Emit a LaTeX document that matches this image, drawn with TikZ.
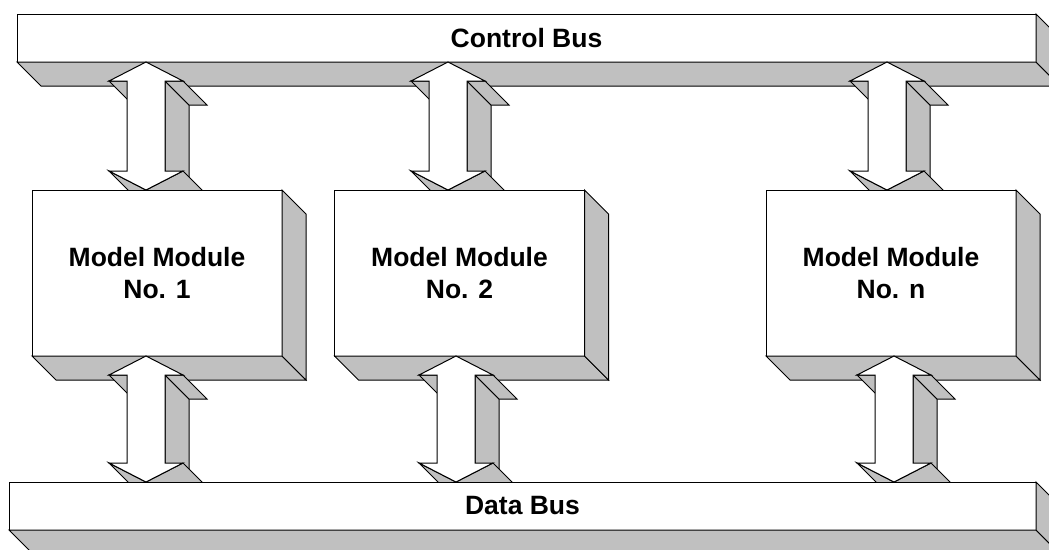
\documentclass[tikz,border=0pt]{standalone}
\usepackage{fontspec}
\setmainfont{Liberation Sans}
\usetikzlibrary{calc}
\definecolor{shadegray}{HTML}{C0C0C0}

\tikzset{
  face/.style={fill=shadegray,draw=black,line width=1pt},
  front/.style={fill=white,draw=black,line width=1pt},
  bus/.style={front,minimum width=1019pt,minimum height=48pt,inner sep=0pt,outer sep=0pt,
    font=\fontsize{26.5}{32}\selectfont\bfseries},
  module/.style={front,minimum width=250pt,minimum height=166pt,inner sep=0pt,outer sep=0pt,
    align=center,font=\fontsize{26.5}{32}\selectfont\bfseries}
}

% side faces of a box node
\newcommand{\boxshade}[1]{%
  \draw[face] (#1.south west) -- (#1.south east) -- ++(24,-24) -- ($(#1.south west)+(24,-24)$) -- cycle;
  \draw[face] (#1.north east) -- ++(24,-24) -- ($(#1.south east)+(24,-24)$) -- (#1.south east) -- cycle;
}

% double block arrow at x between two nodes
\newcommand{\busarrow}[3]{%
  \coordinate (at) at (#1,0 |- #2.south);
  \coordinate (ab) at (#1,0 |- #3.north);
  \draw[face] ($(at)+(19,-19)$) -- ($(ab)+(19,19)$) -- ($(ab)+(43,-5)$) -- ($(at)+(43,-43)$) -- cycle;
  \draw[face] ($(at)+(19,-19)$) -- ($(at)+(37,-19)$) -- ($(at)+(61,-43)$) -- ($(at)+(43,-43)$) -- cycle;
  \draw[face] ($(at)+(-37,-19)$) -- ($(at)+(-19,-19)$) -- ($(at)+(5,-43)$) -- ($(at)+(-13,-43)$) -- cycle;
  \draw[face] (ab) -- ($(ab)+(-37,19)$) -- ($(ab)+(-13,-5)$) -- ($(ab)+(24,-24)$) -- cycle;
  \draw[face] ($(ab)+(37,19)$) -- (ab) -- ($(ab)+(24,-24)$) -- ($(ab)+(61,-5)$) -- cycle;
  \draw[front] (at) -- ++(37,-19) -- ++(-18,0) -- ($(ab)+(19,19)$) -- ++(18,0) -- (ab)
    -- ++(-37,19) -- ++(18,0) -- ($(at)+(-19,-19)$) -- ++(-18,0) -- cycle;
}

\begin{document}
\begin{tikzpicture}[x=1pt,y=1pt]
\useasboundingbox (0,0) rectangle (1049,-549);

\node[bus] (ctrl) at (526.5,-38) {Control Bus};
\boxshade{ctrl}

\node[module] (m1) at (157,-273) {};
\node[module] (m2) at (459.5,-273) {};
\node[module] (mn) at (891,-273) {};

\busarrow{146}{ctrl}{m1}
\busarrow{448}{ctrl}{m2}
\busarrow{887}{ctrl}{mn}

\node[module] at (m1) {Model Module\\No. 1};
\node[module] at (m2) {Model Module\\No. 2};
\node[module] at (mn) {Model Module\\No. n};
\boxshade{m1}
\boxshade{m2}
\boxshade{mn}

\node[bus,minimum width=1027pt] (data) at (522.5,-506) {};

\busarrow{146}{m1}{data}
\busarrow{456}{m2}{data}
\busarrow{894}{mn}{data}

\node[bus,minimum width=1027pt] at (data) {Data Bus};
\boxshade{data}
\end{tikzpicture}
\end{document}
